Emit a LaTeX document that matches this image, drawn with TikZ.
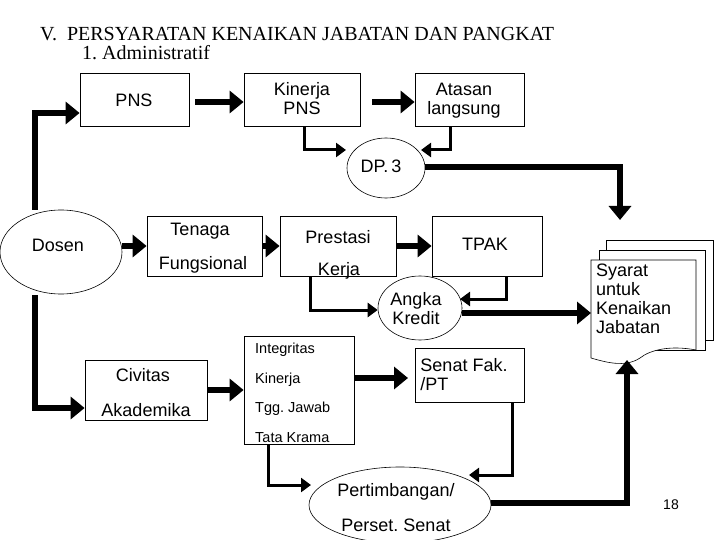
\documentclass[tikz,border=0pt]{standalone}
\usepackage{fontspec}
\setmainfont{Liberation Sans}
\newfontfamily\titlefont{Liberation Serif}
\usetikzlibrary{arrows.meta,shapes.geometric}
\frenchspacing
\begin{document}
\begin{tikzpicture}[x=1pt,y=-1pt,
  box/.style={draw,line width=0.8pt,inner sep=0},
  ell/.style={draw,line width=0.6pt,ellipse,inner sep=0},
  txt/.style={font=\fontsize{18}{19}\selectfont,inner sep=0,align=left},
  stxt/.style={font=\fontsize{14.5}{15}\selectfont,inner sep=0,anchor=west},
  thick arrow/.style={line width=6pt,-{Triangle[length=14pt,width=22pt]}},
  thin arrow/.style={line width=3pt,-{Triangle[length=10pt,width=14pt]}}]
\useasboundingbox (0,0) rectangle (720,540);
\fill[white] (0,0) rectangle (720,540);
% title
\node[anchor=west,inner sep=0,font=\titlefont\fontsize{20}{21}\selectfont] (t1) at (40,34) {V.\enspace PERSYARATAN KENAIKAN JABATAN DAN PANGKAT};
\node[anchor=west,inner sep=0,font=\titlefont\fontsize{20}{21}\selectfont] (t2) at (82,53) {1. Administratif};
% top row
\node[box,minimum width=109pt,minimum height=53pt] (pns) at (134.5,99.5) {};
\node[txt] at (134,100) {PNS};
\node[box,minimum width=116pt,minimum height=53pt] (kin) at (302,99.5) {};
\node[txt,align=center] at (302,99) {Kinerja\\PNS};
\node[box,minimum width=109pt,minimum height=53pt] (ata) at (469.5,99.5) {};
\node[txt,align=center] at (464,101) {Atasan\\langsung};
\node[ell,minimum width=78pt,minimum height=60pt] (dp) at (386,168) {};
\node[txt] at (381,166) {DP.\,3};
% middle row
\node[ell,minimum width=122pt,minimum height=84pt] (dos) at (61,252) {};
\node[txt] at (58,245) {Dosen};
\node[box,minimum width=115pt,minimum height=60pt] (ten) at (204.5,246) {};
\node[txt] at (200,231) {Tenaga};
\node[txt] at (203,265) {Fungsional};
\node[box,minimum width=116pt,minimum height=60pt] (pre) at (338,246) {};
\node[txt] at (338,237) {Prestasi};
\node[txt] at (339,271) {Kerja};
\node[box,minimum width=110pt,minimum height=60pt] (tpak) at (487,246) {};
\node[txt] at (485,244) {TPAK};
\node[ell,minimum width=84pt,minimum height=64pt] (ak) at (420,308) {};
\node[txt,align=center] at (416,309) {Angka\\Kredit};
% document stack
\draw[line width=0.6pt,fill=white] (606,240) rectangle (713,340);
\draw[line width=0.6pt,fill=white] (599,250) rectangle (705,350);
\draw[line width=0.6pt,fill=white] (591,260) -- (696,260) -- (696,350) .. controls (670,345) and (650,350) .. (640,358) .. controls (625,368) and (605,362) .. (591,358) -- cycle;
\coordinate (docL) at (591,313);
\coordinate (docB) at (627,360);
\coordinate (docT) at (620,220);
\node[txt,align=left,anchor=north west] (doc) at (596,264) {Syarat\\untuk\\Kenaikan\\Jabatan};
% lower
\node[box,minimum width=122pt,minimum height=60pt] (civ) at (146,390) {};
\node[txt] at (143,375) {Civitas};
\node[txt] at (146,410) {Akademika};
\node[box,minimum width=110pt,minimum height=108pt] (int) at (299,390) {};
\node[stxt] at (255,350) {Integritas};
\node[stxt] at (255,380) {Kinerja};
\node[stxt] at (255,409) {Tgg. Jawab};
\node[stxt] at (255,438) {Tata Krama};
\node[box,minimum width=109pt,minimum height=54pt] (sen) at (469.5,375) {};
\node[txt] at (464,375) {Senat Fak.\\/PT};
\node[ell,minimum width=182pt,minimum height=76pt] (per) at (400,505) {};
\node[txt] at (396,492) {Pertimbangan/};
\node[txt] at (396,525) {Perset. Senat};
\node[font=\fontsize{14}{15}\selectfont,inner sep=0] (pg) at (671,505) {18};
% connectors
\draw[thick arrow] (35,210) |- (pns.west |- 0,113);
\draw[thick arrow] (195,102) -- (kin.west |- 0,102);
\draw[thick arrow] (372,102) -- (ata.west |- 0,102);
\draw[thin arrow] (kin.south -| 304,0) |- (346,150);
\draw[thin arrow] (ata.south -| 450,0) |- (421,150);
\draw[thick arrow] (dp.east |- 0,167) -| (docT);
\draw[thick arrow] (122,246) -- (ten.west |- 0,246);
\draw[thick arrow] (262,246) -- (pre.west |- 0,246);
\draw[thick arrow] (396,246) -- (tpak.west |- 0,246);
\draw[thin arrow] (pre.south -| 310,0) |- (ak.west |- 0,310);
\draw[thin arrow] (tpak.south -| 506,0) |- (460,299);
\draw[thick arrow] (ak.east |- 0,313) -- (docL);
\draw[thick arrow] (35,295) |- (civ.west |- 0,408);
\draw[thick arrow] (civ.east |- 0,390) -- (int.west |- 0,390);
\draw[thick arrow] (int.east |- 0,378) -- (408,378);
\draw[thin arrow] (sen.south -| 512,0) |- (469,475);
\draw[thin arrow] (int.south -| 268,0) |- (311,485);
\draw[thick arrow] (per.east |- 0,503) -| (docB);
\end{tikzpicture}
\end{document}
